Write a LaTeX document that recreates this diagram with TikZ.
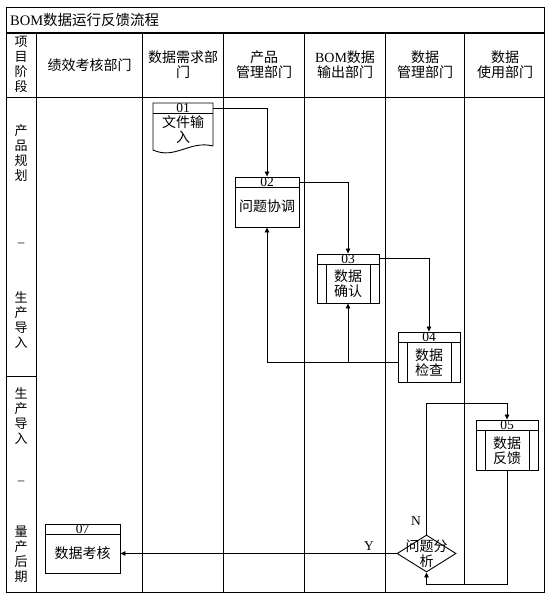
\documentclass[tikz,border=0pt]{standalone}
\usepackage{fontspec}
\setmainfont{Liberation Serif}
\newfontfamily\cjk{Noto Sans CJK SC}
\usetikzlibrary{calc,shapes.geometric,arrows.meta}
\begin{document}
\begin{tikzpicture}[x=1pt,y=-1pt,
  frame/.style={line width=1pt},
  grid/.style={line width=0.85pt},
  txt/.style={inner sep=0pt, align=center, font=\cjk\fontsize{14}{15}\selectfont},
  phase/.style={inner sep=0pt, align=center, font=\cjk\fontsize{13}{15}\selectfont},
  num/.style={inner sep=0pt, font=\fontsize{13.5}{13.5}\selectfont},
  box/.style={draw, line width=0.9pt, inner sep=0pt},
  conn/.style={line width=0.85pt},
  arr/.style={conn, -{Triangle[length=5pt,width=4.5pt]}},
]
\useasboundingbox (0,0) rectangle (552,600);
\fill[white] (0,0) rectangle (552,600);
% frame and lanes
\draw[frame] (6.5,7.5) rectangle (544.5,592);
\draw[line width=1.4pt] (6.5,33) -- (544.5,33);
\draw[grid] (6.5,97) -- (544.5,97);
\foreach \x in {36,142.5,223.5,304.5,385} \draw[grid] (\x,33) -- (\x,592);
\draw[grid] (464.5,33) -- (464.5,584);
\draw[grid] (6.5,376) -- (36,376);
% title and header
\node[txt, anchor=west, font=\cjk\fontsize{14.5}{15}\selectfont] (title) at (10,20) {{\rmfamily BOM}数据运行反馈流程};
\node[phase] (h0) at (21,64.5) {项\\目\\阶\\段};
\node[txt] (h1) at (89.5,65) {绩效考核部门};
\node[txt] (h2) at (183,64.5) {数据需求部\\门};
\node[txt] (h3) at (264,64.5) {产品\\管理部门};
\node[txt] (h4) at (345,64.5) {{\rmfamily BOM}数据\\输出部门};
\node[txt] (h5) at (425,64.5) {数据\\管理部门};
\node[txt] (h6) at (505,64.5) {数据\\使用部门};
% phases
\node[phase] (p1) at (21,153.5) {产\\品\\规\\划};
\node[phase] (p2) at (21,245) {{\rmfamily –}};
\node[phase] (p3) at (21,320) {生\\产\\导\\入};
\node[phase] (p4) at (21,416.5) {生\\产\\导\\入};
\node[phase] (p5) at (21,483) {{\rmfamily –}};
\node[phase] (p6) at (21,554.5) {量\\产\\后\\期};
% 01 document
\node[inner sep=0pt, minimum width=60pt, minimum height=45pt] (n01) at (183,125.5) {};
\draw[box] (213,146) -- (213,103) -- (153,103) -- (153,150)
  .. controls (175,160) and (190,140) .. (213,146);
\draw[conn] (153,113) -- (213,113);
\node[num] (n01num) at (183,108.5) {01};
\node[txt] (n01t) at (183,130) {文件输\\入};
% 02
\node[box, minimum width=64pt, minimum height=50pt] (n02) at (267,202) {};
\draw[conn] ($(n02.north west)+(0,11)$) -- ($(n02.north east)+(0,11)$);
\node[num] (n02num) at ($(n02.north)+(0,5.5)$) {02};
\node[txt] (n02t) at (267,206) {问题协调};
% 03
\node[box, minimum width=62pt, minimum height=49pt] (n03) at (348,278.5) {};
\draw[conn] ($(n03.north west)+(0,11)$) -- ($(n03.north east)+(0,11)$);
\draw[conn] ($(n03.north)+(-22,11)$) -- ($(n03.south)+(-22,0)$);
\draw[conn] ($(n03.north)+(22,11)$) -- ($(n03.south)+(22,0)$);
\node[num] (n03num) at ($(n03.north)+(0,5.5)$) {03};
\node[txt] (n03t) at (348,283.5) {数据\\确认};
% 04
\node[box, minimum width=62pt, minimum height=50pt] (n04) at (429,357) {};
\draw[conn] ($(n04.north west)+(0,11)$) -- ($(n04.north east)+(0,11)$);
\draw[conn] ($(n04.north)+(-22,11)$) -- ($(n04.south)+(-22,0)$);
\draw[conn] ($(n04.north)+(22,11)$) -- ($(n04.south)+(22,0)$);
\node[num] (n04num) at ($(n04.north)+(0,5.5)$) {04};
\node[txt] (n04t) at (429,362.5) {数据\\检查};
% 05
\node[box, minimum width=62pt, minimum height=50pt] (n05) at (507,445) {};
\draw[conn] ($(n05.north west)+(0,11)$) -- ($(n05.north east)+(0,11)$);
\draw[conn] ($(n05.north)+(-22,11)$) -- ($(n05.south)+(-22,0)$);
\draw[conn] ($(n05.north)+(22,11)$) -- ($(n05.south)+(22,0)$);
\node[num] (n05num) at ($(n05.north)+(0,5.5)$) {05};
\node[txt] (n05t) at (507,450.5) {数据\\反馈};
% 07
\node[box, minimum width=75pt, minimum height=49pt] (n07) at (82.5,548.5) {};
\draw[conn] ($(n07.north west)+(0,11)$) -- ($(n07.north east)+(0,11)$);
\node[num] (n07num) at ($(n07.north)+(0,5.5)$) {07};
\node[txt] (n07t) at (82.5,553) {数据考核};
% decision
\node[draw, diamond, line width=0.9pt, minimum width=59pt, minimum height=37pt, inner sep=0pt] (dec) at (426.5,553.5) {};
\node[txt] (dect) at (426.5,554) {问题分\\析};
\node[num] (lblY) at (369,546) {Y};
\node[num] (lblN) at (416,521) {N};
% connectors
\draw[arr] ($(n01.north east)+(0,6)$) -| (n02.north);
\draw[arr] ($(n02.north east)+(0,6)$) -| (n03.north);
\draw[arr] ($(n03.north east)+(0,5)$) -| (n04.north);
\coordinate (fb) at ($(n04.west)+(0,5)$);
\draw[arr] (fb) -| (n02.south);
\draw[arr] (fb -| n03.south) -- (n03.south);
\coordinate (top05) at ($(n05.north)+(0,-16)$);
\draw[arr] (dec.north) |- (top05) -- (n05.north);
\coordinate (loop) at ($(n05.south)+(0,114)$);
\draw[arr] (n05.south) -- (loop) -| (dec.south);
\draw[arr] (dec.west) -- (dec.west -| n07.east);
\end{tikzpicture}
\end{document}
